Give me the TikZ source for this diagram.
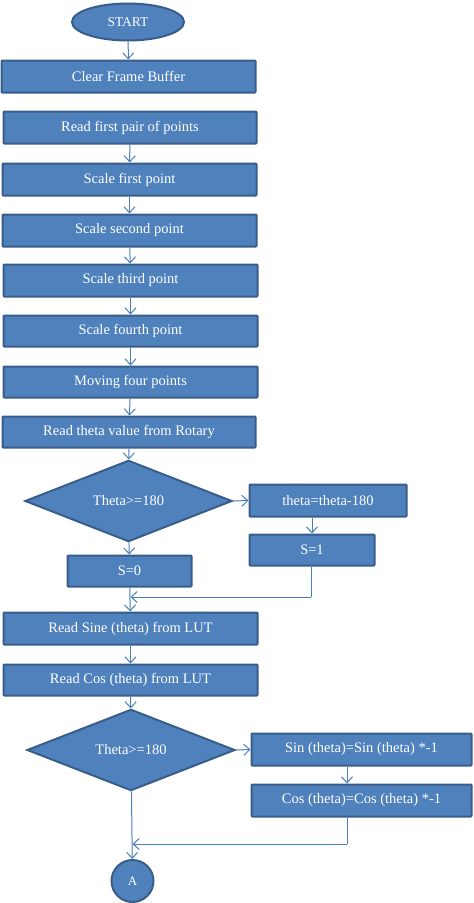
\documentclass[tikz,border=0pt]{standalone}
\usepackage{fontspec}
\setmainfont{Liberation Serif}
\usetikzlibrary{shapes.geometric,arrows.meta}
\definecolor{boxfill}{HTML}{4F81BD}
\definecolor{boxline}{HTML}{385D8A}
\definecolor{arrowcol}{HTML}{4A7EBB}
\begin{document}
\begin{tikzpicture}[x=1pt,y=-1pt,
  base/.style={fill=boxfill,draw=boxline,line width=2pt,text=white,inner sep=0pt,font=\fontsize{14.5}{16}\selectfont},
  procbox/.style={base,rectangle,rounded corners=0.8pt},
  decbox/.style={base,diamond,minimum width=207pt,minimum height=72pt},
  flow/.style={draw=arrowcol,line width=1pt,-{Straight Barb[length=6pt,width=11pt,line width=1pt]}},
  plainline/.style={draw=arrowcol,line width=1pt}]
\useasboundingbox (0,0) rectangle (474,903);
\node[base,ellipse,minimum width=112pt,minimum height=37pt,font=\fontsize{13.5}{15}\selectfont] (start) at (128,22) {START};
\node[procbox,minimum width=254pt,minimum height=32pt] (clear) at (128.5,76.5) {Clear Frame Buffer};
\node[procbox,minimum width=253pt,minimum height=32pt] (read1) at (130,127.5) {Read first pair of points};
\node[procbox,minimum width=254pt,minimum height=32pt] (sc1) at (129.5,179.5) {Scale first point};
\node[procbox,minimum width=254pt,minimum height=32pt] (sc2) at (129.5,230.5) {Scale second point};
\node[procbox,minimum width=254pt,minimum height=32pt] (sc3) at (130.5,280.5) {Scale third point};
\node[procbox,minimum width=254pt,minimum height=31pt] (sc4) at (130.5,331) {Scale fourth point};
\node[procbox,minimum width=254pt,minimum height=31pt] (move) at (130.5,382) {Moving four points};
\node[procbox,minimum width=253pt,minimum height=31pt] (rtheta) at (129,432) {Read theta value from Rotary};
\node[decbox] (d1) at (128.5,501) {Theta>=180};
\node[procbox,minimum width=157pt,minimum height=32pt] (sub) at (328,500.5) {theta=theta-180};
\node[procbox,minimum width=125pt,minimum height=31pt] (s1) at (312,550) {S=1};
\node[procbox,minimum width=124pt,minimum height=31pt] (s0) at (129.5,571) {S=0};
\node[procbox,minimum width=254pt,minimum height=32pt] (rsin) at (130.5,628.5) {Read Sine (theta) from LUT};
\node[procbox,minimum width=254pt,minimum height=31pt] (rcos) at (130.5,680) {Read Cos (theta) from LUT};
\node[decbox,minimum width=208pt] (d2) at (131,750) {Theta>=180};
\node[procbox,minimum width=220pt,minimum height=32pt] (sinneg) at (361.5,749.5) {Sin (theta)=Sin (theta) *-1};
\node[procbox,minimum width=220pt,minimum height=32pt] (cosneg) at (361.5,800.5) {Cos (theta)=Cos (theta) *-1};
\node[base,circle,minimum size=42pt,font=\fontsize{13}{15}\selectfont] (conA) at (132.5,881) {A};
\coordinate (j1) at (311,597);
\coordinate (j2) at (347,844);
\draw[flow] (start) -- (clear);
\draw[flow] (read1) -- (sc1);
\draw[flow] (sc1) -- (sc2);
\draw[flow] (sc2) -- (sc3);
\draw[flow] (sc3) -- (sc4);
\draw[flow] (sc4) -- (move);
\draw[flow] (move) -- (rtheta);
\draw[flow] (rtheta) -- (d1);
\draw[flow] (d1.east) -- (sub.west);
\draw[flow] (sub.south -| s1) -- (s1);
\draw[flow] (d1) -- (s0);
\draw[flow] (s0) -- (rsin);
\draw[plainline] (s1.south -| j1) -- (j1);
\draw[flow] (j1) -- (j1 -| rsin);
\draw[flow] (rsin) -- (rcos);
\draw[flow] (rcos) -- (d2);
\draw[flow] (d2.east) -- (sinneg.west);
\draw[flow] (sinneg.south -| j2) -- (j2 |- cosneg.north);
\draw[flow] (d2) -- (conA);
\draw[plainline] (cosneg.south -| j2) -- (j2);
\draw[flow] (j2) -- (j2 -| conA);
\end{tikzpicture}
\end{document}
